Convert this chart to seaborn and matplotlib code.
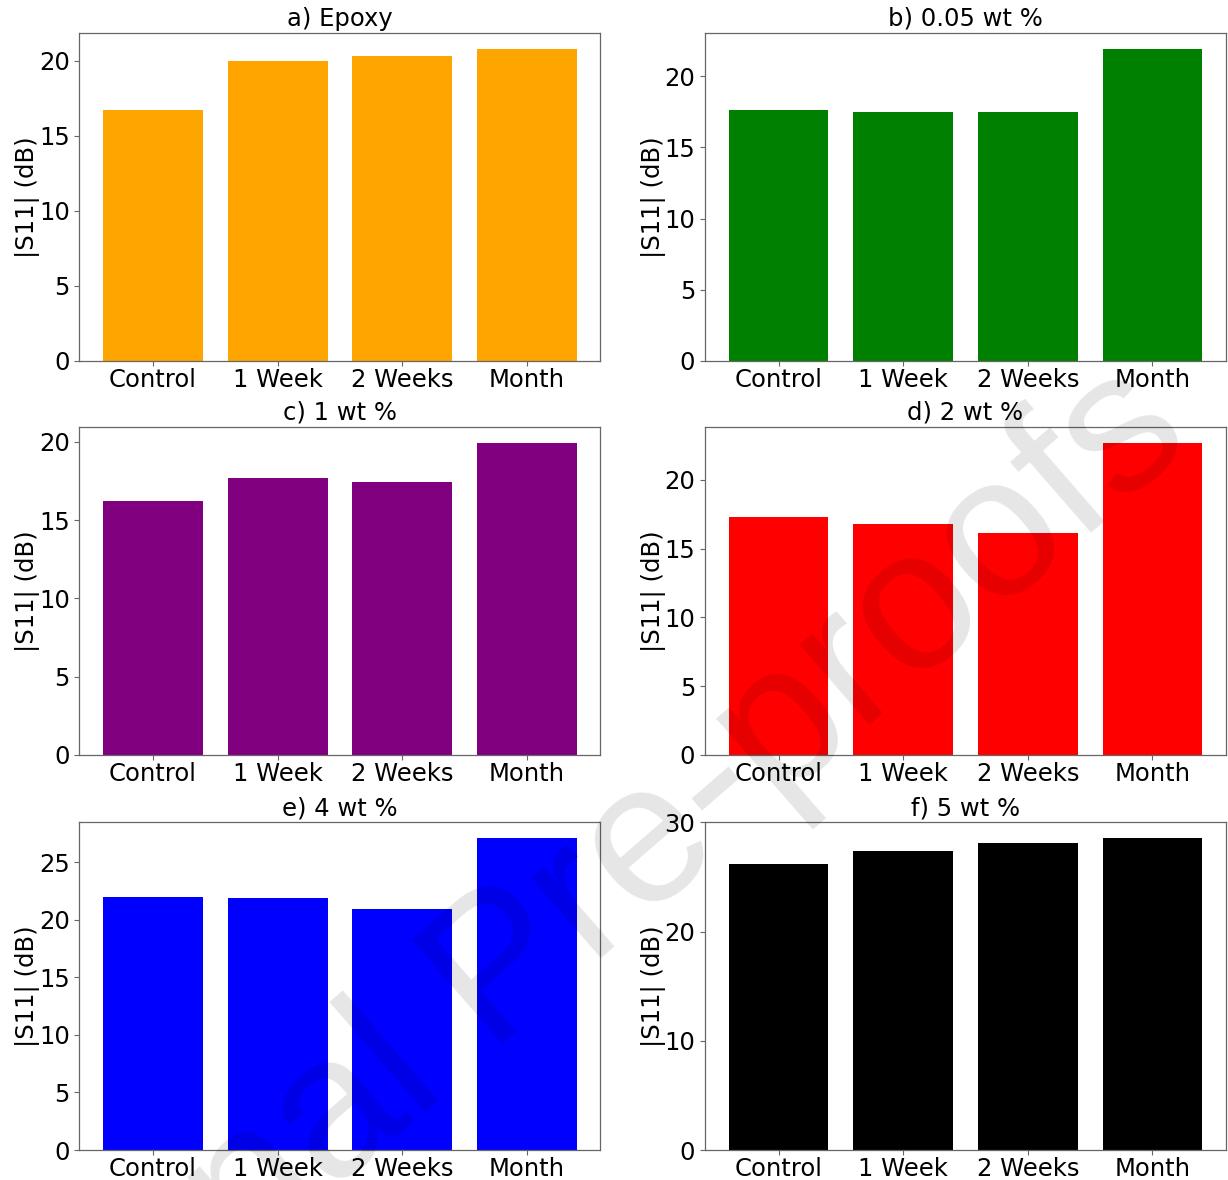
import matplotlib
matplotlib.use("Agg")
import matplotlib.pyplot as plt
import seaborn as sns
import pandas as pd

# Return loss |S11| after each immersion period
periods = ["Control", "1 Week", "2 Weeks", "Month"]

epoxy = [16.7, 19.95, 20.3, 20.8]
wt_005 = [17.6, 17.5, 17.5, 21.95]
wt_1 = [16.2, 17.7, 17.45, 19.95]
wt_2 = [17.3, 16.75, 16.15, 22.7]
wt_4 = [21.95, 21.9, 20.95, 27.15]
wt_5 = [26.2, 27.4, 28.1, 28.6]

titles = ["a) Epoxy", "b) 0.05 wt %", "c) 1 wt %", "d) 2 wt %", "e) 4 wt %", "f) 5 wt %"]
colors = ["orange", "green", "purple", "red", "blue", "black"]
yticks = [
    [0, 5, 10, 15, 20],
    [0, 5, 10, 15, 20],
    [0, 5, 10, 15, 20],
    [0, 5, 10, 15, 20],
    [0, 5, 10, 15, 20, 25],
    [0, 10, 20, 30],
]
series = [epoxy, wt_005, wt_1, wt_2, wt_4, wt_5]

sns.set_theme(style="ticks", rc={
    "axes.edgecolor": "0.4",
    "axes.linewidth": 0.9,
    "xtick.color": "0.4",
    "ytick.color": "0.4",
    "xtick.labelcolor": "black",
    "ytick.labelcolor": "black",
    "xtick.major.size": 3.5,
    "ytick.major.size": 3.5,
    "xtick.major.width": 0.8,
    "ytick.major.width": 0.8,
    "xtick.major.pad": 1.5,
    "font.size": 17.5,
    "axes.titlesize": 17.5,
    "axes.labelsize": 17.5,
    "xtick.labelsize": 17.5,
    "ytick.labelsize": 17.5,
    "axes.labelcolor": "black",
    "text.color": "black",
})
plt.rcParams["font.family"] = ["DejaVu Sans"]

fig = plt.figure(figsize=(12.28, 11.8), dpi=100)

lefts = [0.0647, 0.5741]
bottoms = [0.6941, 0.3602, 0.0254]
w, h = 0.4243, 0.278

for i, (vals, title, col, ticks) in enumerate(zip(series, titles, colors, yticks)):
    r, c = divmod(i, 2)
    ax = fig.add_axes([lefts[c], bottoms[r], w, h])
    df = pd.DataFrame({"period": periods, "s11": vals})
    sns.barplot(data=df, x="period", y="s11", color=col, saturation=1,
                width=0.8, linewidth=0, ax=ax)
    ax.set_xlim(-0.59, len(periods) - 1 + 0.59)
    ax.set_ylim(0, max(vals) * 1.05)
    ax.set_yticks(ticks)
    ax.set_title(title, pad=5)
    ax.set_xlabel("")
    ax.set_ylabel("|S11| (dB)", labelpad=-1)
    for s in ax.spines.values():
        s.set_visible(True)

# Publisher watermark
fig.text(0.468, 0.168, "Journal Pre-proofs", rotation=41, rotation_mode="anchor",
         ha="center", va="baseline", fontsize=144, family="Liberation Sans",
         color="black", alpha=0.1, zorder=10)

fig.savefig("out.png", dpi=100)
